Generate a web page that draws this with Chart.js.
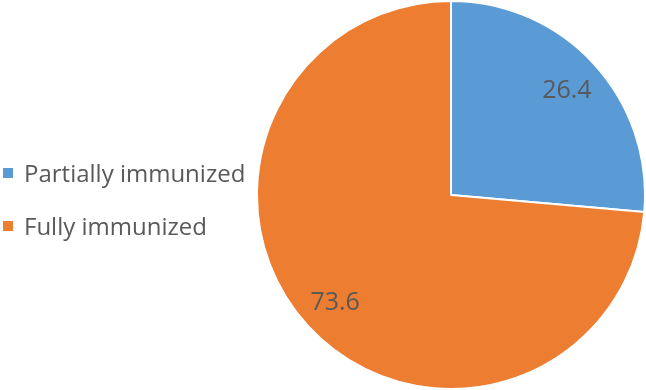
<!DOCTYPE html>
<html>
<head>
<meta charset="utf-8">
<script src="https://cdn.jsdelivr.net/npm/chart.js@4"></script>
<style>
  html, body { margin: 0; padding: 0; background: #fff; }
  #wrap { position: relative; width: 646px; height: 390px; }
  #legend { position: absolute; left: 3px; top: 0; font-family: "Open Sans", sans-serif; font-size: 24px; line-height: 32px; color: #595959; }
  .item { position: absolute; white-space: nowrap; display: flex; align-items: center; }
  .box { width: 10px; height: 10px; margin-right: 11px; }
</style>
</head>
<body>
<div id="wrap">
  <canvas id="pie" width="646" height="390"></canvas>
  <div id="legend"></div>
</div>
<script>
// data
const labels = ['Partially immunized', 'Fully immunized'];
const values = [26.4, 73.6];
const colors = ['#5B9BD5', '#ED7D31'];

// value labels inside slices
const sliceLabels = {
    id: 'sliceLabels',
    afterDatasetsDraw(chart) {
        const c = chart.ctx;
        const meta = chart.getDatasetMeta(0);
        c.save();
        c.font = '25px "Open Sans", sans-serif';
        c.fillStyle = '#595959';
        c.textAlign = 'center';
        c.textBaseline = 'middle';
        meta.data.forEach((arc, i) => {
            const mid = (arc.startAngle + arc.endAngle) / 2;
            const r = arc.outerRadius * 0.81;
            c.fillText(values[i].toFixed(1), arc.x + Math.cos(mid) * r, arc.y + Math.sin(mid) * r + 2);
        });
        c.restore();
    }
};

new Chart(document.getElementById('pie'), {
    type: 'pie',
    data: {
        labels: labels,
        datasets: [{
            data: values,
            backgroundColor: colors,
            borderColor: '#ffffff',
            borderWidth: 2
        }]
    },
    options: {
        responsive: false,
        animation: false,
        layout: { padding: { left: 256, right: 0, top: 0, bottom: 0 } },
        plugins: { legend: { display: false }, tooltip: { enabled: false } }
    },
    plugins: [sliceLabels]
});

// html legend
const legend = document.getElementById('legend');
labels.forEach((lab, i) => {
    const item = document.createElement('div');
    item.className = 'item';
    item.style.top = (157 + i * 53) + 'px';
    item.innerHTML = '<span class="box" style="background:' + colors[i] + '"></span><span>' + lab + '</span>';
    legend.appendChild(item);
});
</script>
</body>
</html>
